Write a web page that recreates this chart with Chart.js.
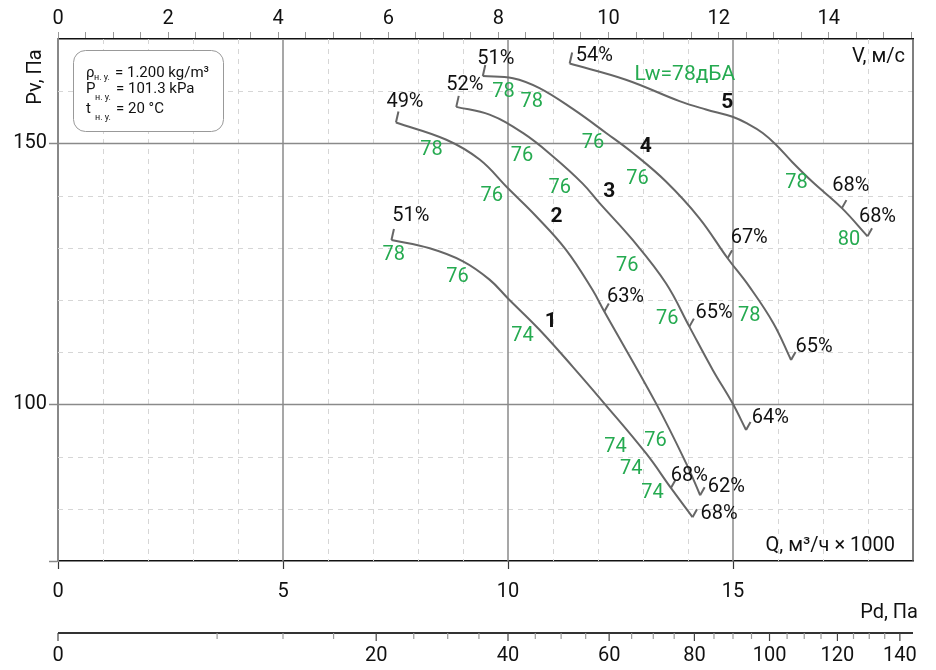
<!DOCTYPE html>
<html>
<head>
<meta charset="utf-8">
<script src="https://cdn.jsdelivr.net/npm/chart.js@4.4.1/dist/chart.umd.min.js"></script>
<style>
  body { margin: 0; background: #fff; }
  #wrap { width: 936px; height: 670px; }
</style>
</head>
<body>
<div id="wrap"><canvas id="fan" width="936" height="670"></canvas></div>
<script>
// fan curves: Q (thousand m3/h) -> Pv (Pa)
const curve1Q  = [7.41, 8.26, 9.00, 9.59, 10.00, 10.70, 11.44, 12.11, 13.07, 13.62, 14.10];
const curve1Pv = [131.5, 129.9, 127.4, 123.9, 120.3, 114.3, 107.2, 100.5, 90.6, 84.0, 78.4];
const curve2Q  = [7.51, 8.63, 9.37, 10.00, 10.63, 11.29, 11.88, 12.14, 13.29, 13.96, 14.27];
const curve2Pv = [154.0, 150.7, 146.9, 141.4, 136.0, 129.6, 121.9, 117.8, 100.2, 88.7, 82.6];
const curve3Q  = [8.85, 9.59, 10.33, 11.00, 11.66, 12.03, 12.77, 13.51, 14.03, 14.55, 14.99, 15.29];
const curve3Pv = [157.0, 155.5, 152.0, 147.5, 142.3, 138.6, 131.5, 123.2, 114.9, 106.6, 100.2, 95.1];
const curve4Q  = [9.44, 10.11, 10.70, 11.44, 12.18, 12.77, 13.51, 14.25, 14.88, 15.36, 15.90, 16.29];
const curve4Pv = [162.9, 162.5, 160.6, 156.6, 152.0, 148.2, 142.7, 135.7, 128.0, 122.6, 115.5, 108.5];
const curve5Q  = [11.37, 12.62, 13.81, 14.40, 14.99, 15.36, 15.66, 15.95, 16.32, 16.77, 17.42, 17.99];
const curve5Pv = [165.3, 162.2, 158.1, 156.5, 155.1, 153.6, 152.0, 149.8, 146.4, 142.6, 137.6, 132.2];

// indices of the points carrying a tick mark (start / efficiency / end)
const marks1 = [0, 9, 10];
const marks2 = [0, 7, 10];
const marks3 = [0, 8, 11];
const marks4 = [0, 8, 11];
const marks5 = [0, 10, 11];

// efficiency labels [Q, Pv, text]
const effLabels = [
  [7.84, 136.1, '51%'], [7.71, 158.0, '49%'], [9.04, 161.2, '52%'], [9.73, 166.2, '51%'],
  [11.92, 166.8, '54%'], [12.61, 120.6, '63%'], [14.58, 117.5, '65%'], [15.83, 97.4, '64%'],
  [15.36, 131.9, '67%'], [16.80, 111.0, '65%'], [17.62, 141.8, '68%'], [18.21, 135.9, '68%'],
  [14.03, 86.3, '68%'], [14.85, 84.1, '62%'], [14.69, 79.0, '68%']
];
// sound power labels [Q, Pv, text]
const noiseLabels = [
  [7.46, 128.6, '78'], [8.88, 124.4, '76'], [10.32, 113.1, '74'],
  [8.30, 148.7, '78'], [9.64, 140.0, '76'],
  [10.31, 147.5, '76'], [11.15, 141.5, '76'], [12.65, 126.5, '76'], [13.54, 116.4, '76'],
  [9.90, 159.9, '78'], [10.53, 158.0, '78'], [11.89, 150.1, '76'], [12.88, 143.1, '76'], [15.36, 116.9, '78'],
  [16.41, 142.4, '78'], [17.58, 131.4, '80'],
  [13.28, 93.0, '76'], [12.39, 91.8, '74'], [12.74, 87.6, '74'], [13.21, 83.0, '74']
];
const lwLabel = [13.93, 163.2, 'Lw=78дБА'];
const curveNums = [[10.95, 115.8, '1'], [11.08, 135.9, '2'], [12.25, 140.7, '3'], [13.06, 149.4, '4'], [14.87, 157.7, '5']];

// axes
const qTicks = [0, 5, 10, 15];
const pvTicks = [70, 100, 150];
const vTicks = [0, 0.5, 1, 1.5, 2, 2.5, 3, 3.5, 4, 4.5, 5, 5.5, 6, 6.5, 7, 7.5, 8, 8.5, 9, 9.5, 10, 10.5, 11, 11.5, 12, 12.5, 13, 13.5, 14, 14.5, 15, 15.5];
const qGridMinor = [1, 2, 3, 4, 6, 7, 8, 9, 11, 12, 13, 14, 16, 17, 18];
const qGridMajor = [5, 10, 15];
const pvGridMinor = [80, 90, 110, 120, 130, 140, 160];
const pvGridMajor = [100, 150];
const pdTicks = [0, 5, 10, 15, 20, 25, 30, 35, 40, 45, 50, 55, 60, 65, 70, 75, 80, 85, 90, 95, 100, 105, 110, 115, 120, 125, 130, 135, 140];
const pdLabels = [0, 20, 40, 60, 80, 100, 120, 140];
const Q_MAX = 19;
const V_PER_Q = 0.8174;   // V, m/s per 1000 m3/h
const PD_K = 0.4;         // Pd = 0.4 * Q^2

const FONT = 'Roboto, "Noto Sans", sans-serif';
const GREEN = '#25aa50';
const INK = '#111';

const curves = [
  [curve1Q, curve1Pv, marks1], [curve2Q, curve2Pv, marks2], [curve3Q, curve3Pv, marks3],
  [curve4Q, curve4Pv, marks4], [curve5Q, curve5Pv, marks5]
];

function text(ctx, str, x, y, font, color, align, base) {
  ctx.font = font;
  ctx.fillStyle = color;
  ctx.textAlign = align || 'center';
  ctx.textBaseline = base || 'middle';
  ctx.fillText(str, x, y);
}

const decor = {
  id: 'decor',
  beforeDatasetsDraw(chart) {
    const { ctx, chartArea: a, scales: { x, y } } = chart;
    ctx.save();
    ctx.lineWidth = 1;
    ctx.strokeStyle = '#d6d6d6';
    ctx.setLineDash([5, 5]);
    qGridMinor.forEach(q => {
      const px = Math.round(x.getPixelForValue(q)) + 0.5;
      ctx.beginPath(); ctx.moveTo(px, a.top); ctx.lineTo(px, a.bottom); ctx.stroke();
    });
    pvGridMinor.forEach(v => {
      const py = Math.round(y.getPixelForValue(v)) + 0.5;
      ctx.beginPath(); ctx.moveTo(a.left, py); ctx.lineTo(a.right, py); ctx.stroke();
    });
    ctx.setLineDash([]);
    ctx.strokeStyle = '#8a8a8a';
    ctx.lineWidth = 1.5;
    qGridMajor.forEach(q => {
      const px = x.getPixelForValue(q);
      ctx.beginPath(); ctx.moveTo(px, a.top); ctx.lineTo(px, a.bottom); ctx.stroke();
    });
    pvGridMajor.forEach(v => {
      const py = y.getPixelForValue(v);
      ctx.beginPath(); ctx.moveTo(a.left, py); ctx.lineTo(a.right, py); ctx.stroke();
    });
    // right border
    ctx.strokeStyle = '#555';
    ctx.beginPath(); ctx.moveTo(a.right, a.top); ctx.lineTo(a.right, a.bottom); ctx.stroke();

    // conditions box
    const bx = 73, by = 50, bw = 150, bh = 81;
    ctx.fillStyle = '#fff';
    ctx.strokeStyle = '#999';
    ctx.lineWidth = 1;
    ctx.beginPath(); ctx.roundRect(bx + 0.5, by + 0.5, bw, bh, 12); ctx.fill(); ctx.stroke();
    const f = '15px ' + FONT, s = '9px ' + FONT;
    text(ctx, 'ρ', 86, 77, f, INK, 'left', 'alphabetic');
    text(ctx, 'н. у.', 94, 80, s, INK, 'left', 'alphabetic');
    text(ctx, '= 1.200 kg/m³', 115, 77, f, INK, 'left', 'alphabetic');
    text(ctx, 'P', 86, 93, f, INK, 'left', 'alphabetic');
    text(ctx, 'н. у.', 95, 100, s, INK, 'left', 'alphabetic');
    text(ctx, '= 101.3 kPa', 116, 93, f, INK, 'left', 'alphabetic');
    text(ctx, 't', 86, 113, f, INK, 'left', 'alphabetic');
    text(ctx, 'н. у.', 95, 120, s, INK, 'left', 'alphabetic');
    text(ctx, '= 20 °C', 116, 113, f, INK, 'left', 'alphabetic');
    ctx.restore();
  },
  afterDatasetsDraw(chart) {
    const { ctx, chartArea: a, scales: { x, y } } = chart;
    ctx.save();
    // tick marks on the curves
    ctx.strokeStyle = '#666';
    ctx.lineWidth = 2;
    curves.forEach((c, i) => {
      const pts = chart.getDatasetMeta(i).data;
      c[2].forEach((idx, k) => {
        const p = pts[idx];
        const d = k === 0 ? [2.5, -11] : [4.5, -8];
        ctx.beginPath(); ctx.moveTo(p.x, p.y); ctx.lineTo(p.x + d[0], p.y + d[1]); ctx.stroke();
      });
    });
    // labels
    const px = l => x.getPixelForValue(l[0]), py = l => y.getPixelForValue(l[1]);
    effLabels.forEach(l => text(ctx, l[2], px(l), py(l), '20px ' + FONT, INK));
    noiseLabels.forEach(l => text(ctx, l[2], px(l), py(l), '20px ' + FONT, GREEN));
    text(ctx, lwLabel[2], px(lwLabel), py(lwLabel), '21px ' + FONT, GREEN);
    curveNums.forEach(l => text(ctx, l[2], px(l), py(l), 'bold 21px ' + FONT, INK));

    // axis titles
    text(ctx, 'V, м/с', a.right - 8, 57, '20px ' + FONT, INK, 'right');
    text(ctx, 'Q, м³/ч × 1000', a.right - 18, 546, '20px ' + FONT, INK, 'right');
    text(ctx, 'Pd, Па', a.right + 5, 613, '20px ' + FONT, INK, 'right');
    ctx.save();
    ctx.translate(36, 77);
    ctx.rotate(-Math.PI / 2);
    text(ctx, 'Pv, Па', 0, 0, '20px ' + FONT, INK);
    ctx.restore();

    // dynamic pressure scale
    const ly = 633;
    ctx.strokeStyle = '#333';
    ctx.lineWidth = 2;
    ctx.beginPath(); ctx.moveTo(a.left, ly); ctx.lineTo(a.right, ly); ctx.stroke();
    pdTicks.forEach(pd => {
      const tx = x.getPixelForValue(Math.sqrt(pd / PD_K));
      const major = pdLabels.includes(pd);
      ctx.strokeStyle = major ? '#444' : '#999';
      ctx.lineWidth = 1.2;
      ctx.beginPath(); ctx.moveTo(tx, ly); ctx.lineTo(tx, ly + (major ? 8 : 6)); ctx.stroke();
      if (major) text(ctx, String(pd), tx, 656, '20px ' + FONT, INK);
    });
    ctx.restore();
  }
};

new Chart(document.getElementById('fan'), {
  type: 'line',
  data: {
    datasets: curves.map(c => ({
      data: c[0].map((q, i) => ({ x: q, y: c[1][i] })),
      borderColor: '#666',
      borderWidth: 2,
      pointRadius: 0,
      fill: false,
      tension: 0.4
    }))
  },
  options: {
    responsive: false,
    animation: false,
    devicePixelRatio: 1,
    layout: { padding: { left: 0, right: 23, top: 0, bottom: 0 } },
    plugins: { legend: { display: false }, tooltip: { enabled: false } },
    scales: {
      x: {
        type: 'linear', position: 'bottom', min: 0, max: Q_MAX,
        afterBuildTicks: s => { s.ticks = qTicks.map(v => ({ value: v })); },
        afterFit: s => { s.height = 109; },
        ticks: { autoSkip: false, maxRotation: 0, padding: 11, color: INK, font: { family: FONT, size: 20 } },
        grid: { drawOnChartArea: false, tickLength: 8, tickColor: '#333', tickWidth: 1.2 },
        border: { color: '#111', width: 1.5 }
      },
      xV: {
        type: 'linear', position: 'top', min: 0, max: Q_MAX * V_PER_Q,
        afterBuildTicks: s => { s.ticks = vTicks.map(v => ({ value: v })); },
        afterFit: s => { s.height = 39; },
        ticks: {
          autoSkip: false, maxRotation: 0, padding: 1, color: INK, font: { family: FONT, size: 20 },
          callback: v => (v % 2 === 0 ? v : '')
        },
        grid: { drawOnChartArea: false, tickLength: 7, tickColor: '#999', tickWidth: 1 },
        border: { color: '#111', width: 1.5 }
      },
      y: {
        type: 'linear', min: 70, max: 170,
        afterBuildTicks: s => { s.ticks = pvTicks.map(v => ({ value: v })); },
        afterFit: s => { s.width = 58; },
        ticks: {
          autoSkip: false, padding: 2, color: INK, font: { family: FONT, size: 20 },
          callback: v => (v === 70 ? '' : v)
        },
        grid: { drawOnChartArea: false, tickLength: 9, tickColor: '#888', tickWidth: 1.5 },
        border: { color: '#888', width: 2 }
      }
    }
  },
  plugins: [decor]
});
</script>
</body>
</html>
